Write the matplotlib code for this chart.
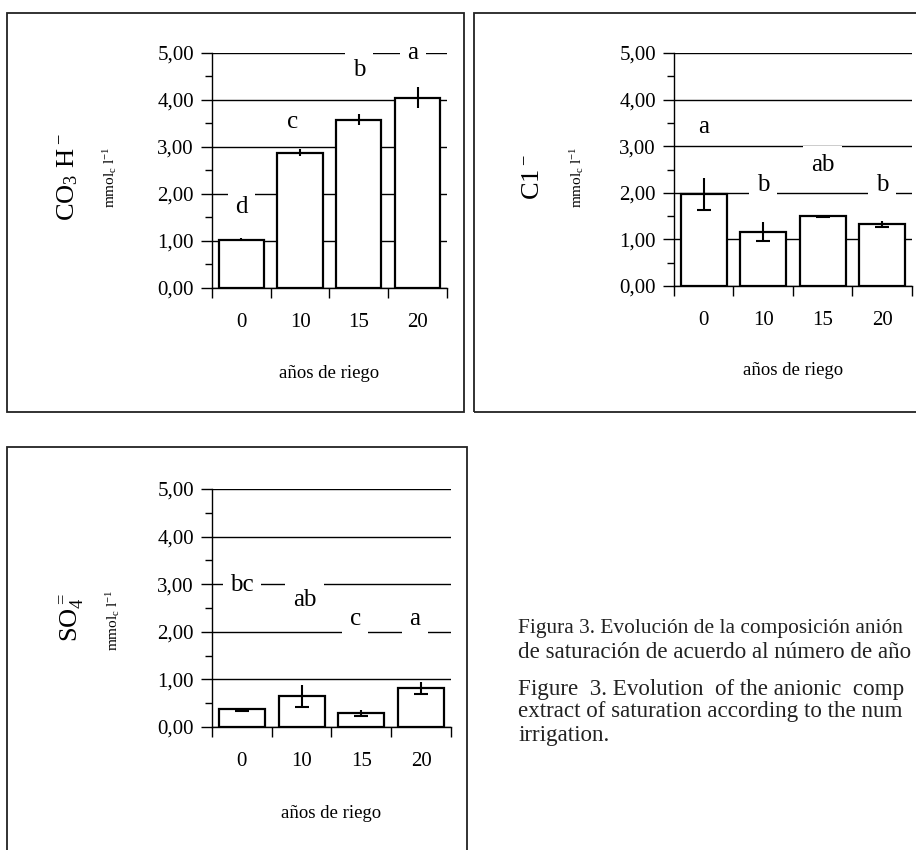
import matplotlib
matplotlib.use("Agg")
import matplotlib.pyplot as plt
from matplotlib.patches import Rectangle
import numpy as np

plt.rcParams['font.family'] = ['Liberation Serif', 'DejaVu Serif']
plt.rcParams['mathtext.default'] = 'regular'

years = ["0", "10", "15", "20"]

# HCO3-
hco3 = [1.03, 2.88, 3.58, 4.05]
hco3_err = [0.03, 0.07, 0.12, 0.23]
hco3_letters = ["d", "c", "b", "a"]
hco3_letter_x = [0.0, 0.88, 2.0, 2.92]
hco3_letter_y = [1.72, 3.53, 4.64, 5.0]

# Cl-
cl = [1.97, 1.17, 1.50, 1.33]
cl_err = [0.34, 0.21, 0.01, 0.07]
cl_letters = ["a", "b", "ab", "b"]
cl_letter_x = [0.0, 1.0, 2.0, 3.0]
cl_letter_y = [3.42, 2.17, 2.60, 2.17]

# SO4=
so4 = [0.37, 0.65, 0.29, 0.82]
so4_err = [0.03, 0.24, 0.06, 0.12]
so4_letters = ["bc", "ab", "c", "a"]
so4_letter_x = [0.0, 1.05, 1.9, 2.9]
so4_letter_y = [2.98, 2.66, 2.27, 2.27]

yticks = [0, 1, 2, 3, 4, 5]


def draw_panel(ax, values, errs, letters, lx, ly, lower_caps):
    x = np.arange(len(values))
    ax.set_axisbelow(True)
    ax.yaxis.grid(True, which='major', color='black', linewidth=1.0)
    ax.bar(x, values, width=0.77, color='white', edgecolor='black', linewidth=1.6, zorder=2)
    ax.errorbar(x, values, yerr=errs, fmt='none', ecolor='black', elinewidth=1.5, capsize=0, zorder=3)
    if lower_caps:
        ax.plot(x, np.array(values) - np.array(errs), linestyle='none', marker='_',
                markersize=10, markeredgewidth=1.5, color='black', zorder=3)
    for xi, yi, t in zip(lx, ly, letters):
        ax.text(xi, yi, t, ha='center', va='center', fontsize=18, zorder=4,
                bbox=dict(boxstyle='square,pad=0.3', facecolor='white', edgecolor='none'))

    ax.set_xlim(-0.5, len(values) - 0.5)
    ax.set_ylim(0, 5)
    ax.set_yticks(yticks)
    ax.set_yticklabels([f"{v:.2f}".replace(".", ",") for v in yticks])
    ax.set_yticks(np.arange(0.5, 5, 1.0), minor=True)
    ax.tick_params(axis='y', which='major', length=8, width=1, pad=5, labelsize=15)
    ax.tick_params(axis='y', which='minor', length=5, width=1)

    ax.set_xticks(np.arange(-0.5, len(values)), labels=[""] * (len(values) + 1))
    ax.set_xticks(x, labels=years, minor=True)
    ax.tick_params(axis='x', which='major', length=7, width=1)
    ax.tick_params(axis='x', which='minor', length=0, pad=18, labelsize=15)

    for side in ['top', 'right']:
        ax.spines[side].set_visible(False)
    for side in ['left', 'bottom']:
        ax.spines[side].set_linewidth(1.0)
    ax.text(0.5, -0.362, "años de riego", transform=ax.transAxes,
            ha='center', va='center', fontsize=13.5)


fig = plt.figure(figsize=(9.16, 8.5), dpi=100)

# panel frames
for (x0, y0, x1, y1) in [(7, 13, 464, 412), (474, 13, 940, 412), (7, 447, 467, 870)]:
    fig.patches.append(Rectangle((x0 / 916, 1 - y1 / 850), (x1 - x0) / 916, (y1 - y0) / 850,
                                 transform=fig.transFigure, fill=False,
                                 edgecolor='#222222', linewidth=1.3))

ax1 = fig.add_axes([0.2314, 0.6612, 0.2566, 0.2765])
draw_panel(ax1, hco3, hco3_err, hco3_letters, hco3_letter_x, hco3_letter_y, False)

ax2 = fig.add_axes([0.7358, 0.6635, 0.2598, 0.2741])
draw_panel(ax2, cl, cl_err, cl_letters, cl_letter_x, cl_letter_y, True)

ax3 = fig.add_axes([0.2314, 0.1447, 0.2609, 0.2800])
draw_panel(ax3, so4, so4_err, so4_letters, so4_letter_x, so4_letter_y, True)

# y labels
fig.text(0.074, 0.792, r"CO$_3$ H$^-$", rotation=90, ha='center', va='center', fontsize=19)
fig.text(0.120, 0.792, r"mmol$_c$ l$^{-1}$", rotation=90, ha='center', va='center', fontsize=11)
fig.text(0.582, 0.792, r"C1$^-$", rotation=90, ha='center', va='center', fontsize=19)
fig.text(0.630, 0.792, r"mmol$_c$ l$^{-1}$", rotation=90, ha='center', va='center', fontsize=11)
fig.text(0.0786, 0.274, r"SO$_4^=$", rotation=90, ha='center', va='center', fontsize=19)
fig.text(0.123, 0.271, r"mmol$_c$ l$^{-1}$", rotation=90, ha='center', va='center', fontsize=11)

# caption (the source page cuts it at the right edge)
cap_x = 518 / 916
caption_lines = [
    ("Figura 3. Evolución de la composición anión", 629, 15.4),
    ("de saturación de acuerdo al número de año", 652, 16.6),
    ("Figure  3. Evolution  of the anionic  comp", 689, 16.6),
    ("extract of saturation according to the num", 712, 16.6),
    ("irrigation.", 736, 16.6),
]
for line, ypx, fs in caption_lines:
    fig.text(cap_x, 1 - ypx / 850, line, ha='left', va='center', fontsize=fs, color='#222222')

fig.savefig("out.png", dpi=100)
